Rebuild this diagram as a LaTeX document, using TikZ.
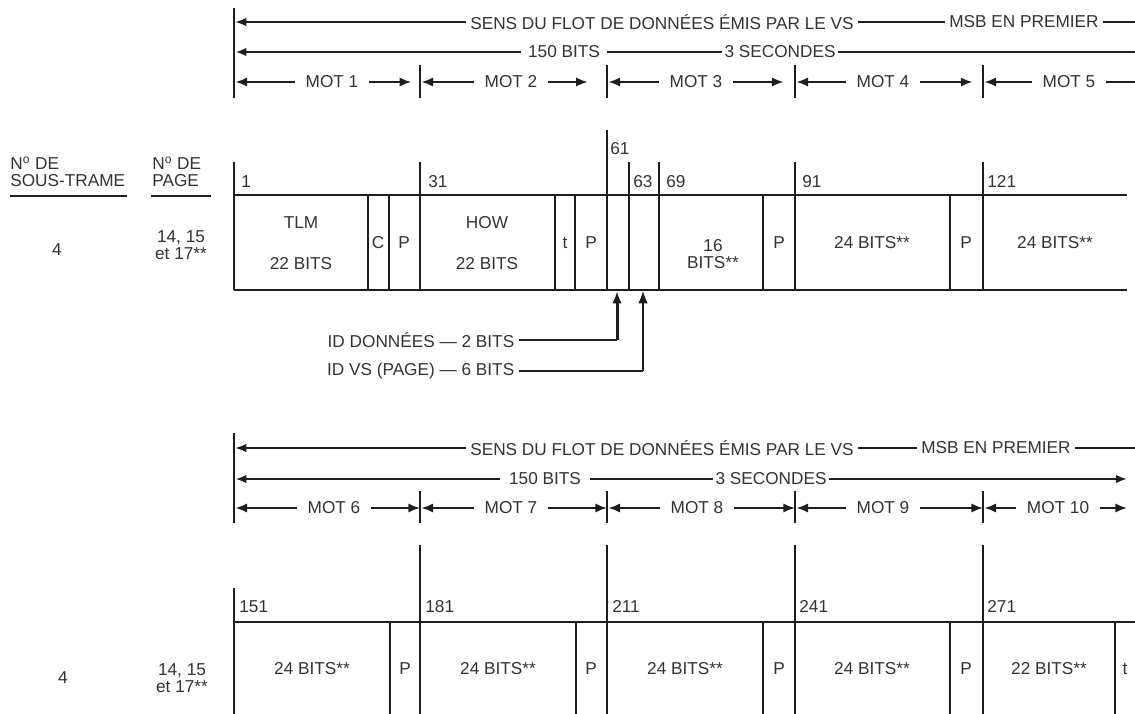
\documentclass[tikz,border=0pt]{standalone}
\usepackage{fontspec}
\setmainfont{Liberation Sans}
\usetikzlibrary{arrows.meta,calc}
\definecolor{ink}{HTML}{1E1E1E}
\definecolor{txt}{HTML}{333333}

\begin{document}
\begin{tikzpicture}[x=0.02cm,y=-0.02cm,>={Latex[length=6.2pt,width=4.8pt]},
  lbl/.style={inner sep=2.5pt,text=txt,font=\fontsize{9.8}{9.4}\selectfont},
  mot/.style={lbl,inner xsep=6pt},
  num/.style={lbl,anchor=base west,inner sep=0pt},
  cell/.style={draw=ink,line width=0.7pt},
  hair/.style={draw=ink,line width=0.6pt},
  motarr/.style={->,draw=ink,line width=1.1pt,>={Latex[length=6.6pt,width=5.2pt]}},
  bitarr/.style={draw=ink,line width=1.4pt},
  idarr/.style={->,draw=ink,>={Latex[length=7pt,width=5.4pt]}}]
\path[use as bounding box,fill=white] (0,0) rectangle (1135,713);

% top ruler
\draw[hair] (234,8) -- (234,98);
\foreach \x in {420,607,795,983} \draw[hair] (\x,65) -- (\x,98);
\coordinate (a1) at (234,22);
\coordinate (b1) at (1140,22);
\node[lbl] (sens1) at (662,22) {SENS DU FLOT DE DONNÉES ÉMIS PAR LE VS};
\node[lbl] (msb1) at (1024,22) {MSB EN PREMIER};
\draw[hair,->,shorten >=0.8pt] (sens1.west) -- (a1);
\draw[hair] (sens1.east) -- (msb1.west);
\draw[hair] (msb1.east) -- (b1);
\coordinate (a2) at (234,52);
\coordinate (b2) at (1140,52);
\node[lbl,inner xsep=4pt] (bits1) at (564,52) {150 BITS};
\node[lbl,inner xsep=1pt] (sec1) at (780,52) {3 SECONDES};
\draw[bitarr,->,shorten >=0.8pt] (bits1.west) -- (a2);
\draw[hair] (bits1.east) -- (sec1.west);
\draw[bitarr] (sec1.east) -- (b2);
\foreach \k/\x in {0/234,1/420,2/607,3/795,4/983,5/1170} \coordinate (m\k) at (\x,82);
\foreach \i/\x/\g in {1/332/5pt,2/511/11pt,3/696/6.5pt,4/883/6pt,5/1069/0pt}{
  \pgfmathtruncatemacro\pre{\i-1}
  \node[mot] (mot\i) at (\x,82) {MOT \i};
  \draw[motarr,shorten >=0.8pt] (mot\i.west) -- (m\pre);
  \draw[motarr,shorten >=\g] (mot\i.east) -- (m\i);
}

% headers
\node[lbl,anchor=south west,inner sep=0pt,align=left] (hsub) at (10,187) {N\textsuperscript{o} DE\\SOUS-TRAME};
\node[lbl,anchor=south west,inner sep=0pt,align=left] (hpage) at (152,187) {N\textsuperscript{o} DE\\PAGE};
\draw[ink,line width=1.2pt] (10,196) -- (127,196);
\draw[ink,line width=1.2pt] (151,196) -- (211,196);

% top frame
\draw[cell] (234,195) -- (1127,195) (234,290) -- (1127,290);
\foreach \x in {368,389,555,575,763,950} \draw[cell] (\x,195) -- (\x,290);
\foreach \x in {234,420,629,659,795,983} \draw[cell] (\x,162) -- (\x,290);
\draw[cell] (607,130) -- (607,290);
\foreach \n/\x in {1/241,31/428,63/633,69/666,91/802,121/987} \node[num] (n\n) at (\x,187) {\n};
\node[num] (n61) at (610,154) {61};
\node[lbl] (sub1) at (57,250) {4};
\node[lbl,align=center] (page1) at (181,245) {14, 15\\et 17**};
\node[lbl] (tlm) at (301,223) {TLM};
\node[lbl] (tlmb) at (301,264) {22 BITS};
\node[lbl] (fc) at (378,243) {C};
\node[lbl] (fp1) at (404,243) {P};
\node[lbl] (how) at (487,223) {HOW};
\node[lbl] (howb) at (487,264) {22 BITS};
\node[lbl] (ft) at (565,243) {t};
\node[lbl] (fp2) at (591,243) {P};
\node[lbl,align=center] (f16) at (713,254) {16\\BITS**};
\node[lbl] (fp3) at (779,243) {P};
\node[lbl] (w4) at (872,243) {24 BITS**};
\node[lbl] (fp4) at (966,243) {P};
\node[lbl] (w5) at (1055,243) {24 BITS**};

% data id / sv id
\node[lbl,anchor=east] (iddon) at (519,340) {ID DONNÉES — 2 BITS};
\node[lbl,anchor=east] (idvs) at (519,371) {ID VS (PAGE) — 6 BITS};
\coordinate (pid) at (617,291);
\coordinate (pvs) at (643,291);
\draw[hair] (iddon.east) -- (iddon.east -| pid);
\draw[idarr,line width=1.7pt] (iddon.east -| pid) -- (pid);
\draw[hair] (idvs.east) -- (idvs.east -| pvs);
\draw[idarr,line width=0.6pt] (idvs.east -| pvs) -- (pvs);

% bottom ruler
\draw[hair] (234,433) -- (234,523);
\foreach \x in {420,607,795,983} \draw[hair] (\x,491) -- (\x,523);
\coordinate (c1) at (234,448);
\coordinate (d1) at (1140,448);
\node[lbl] (sens2) at (662,448) {SENS DU FLOT DE DONNÉES ÉMIS PAR LE VS};
\node[lbl] (msb2) at (996,448) {MSB EN PREMIER};
\draw[hair,->,shorten >=0.8pt] (sens2.west) -- (c1);
\draw[hair] (sens2.east) -- (msb2.west);
\draw[hair] (msb2.east) -- (d1);
\coordinate (c2) at (234,479);
\coordinate (d2) at (1127,479);
\node[lbl,inner xsep=5pt] (bits2) at (545,479) {150 BITS};
\node[lbl,inner xsep=1pt] (sec2) at (771,479) {3 SECONDES};
\draw[bitarr,->,shorten >=0.8pt] (bits2.west) -- (c2);
\draw[hair] (bits2.east) -- (sec2.west);
\draw[bitarr,->] (sec2.east) -- (d2);
\foreach \k/\x in {0/234,1/420,2/607,3/795,4/983,5/1127} \coordinate (n\k) at (\x,508);
\foreach \i/\x in {6/334,7/511,8/697,9/883,10/1058}{
  \pgfmathtruncatemacro\pre{\i-6}
  \pgfmathtruncatemacro\nxt{\i-5}
  \node[mot] (mot\i) at (\x,508) {MOT \i};
  \draw[motarr,shorten >=0.8pt] (mot\i.west) -- (n\pre);
  \draw[motarr] (mot\i.east) -- (n\nxt);
}

% bottom frame
\draw[cell] (234,622) -- (1140,622);
\foreach \x in {390,576,763,950,1115} \draw[cell] (\x,622) -- (\x,720);
\foreach \x in {420,607,795,983} \draw[cell] (\x,545) -- (\x,720);
\draw[cell] (234,588) -- (234,720);
\foreach \n/\x in {151/239,181/425,211/612,241/799,271/987} \node[num] (n\n) at (\x,612) {\n};
\node[lbl] (sub2) at (63,678) {4};
\node[lbl,align=center] (page2) at (182,678) {14, 15\\et 17**};
\foreach \k/\x in {6/312,7/498,8/685,9/872} \node[lbl] (w\k) at (\x,669) {24 BITS**};
\node[lbl] (w10) at (1049,669) {22 BITS**};
\foreach \k/\x in {6/405,7/591,8/779,9/966} \node[lbl] (p\k) at (\x,669) {P};
\node[lbl] (ft2) at (1125,669) {t};
\end{tikzpicture}
\end{document}
